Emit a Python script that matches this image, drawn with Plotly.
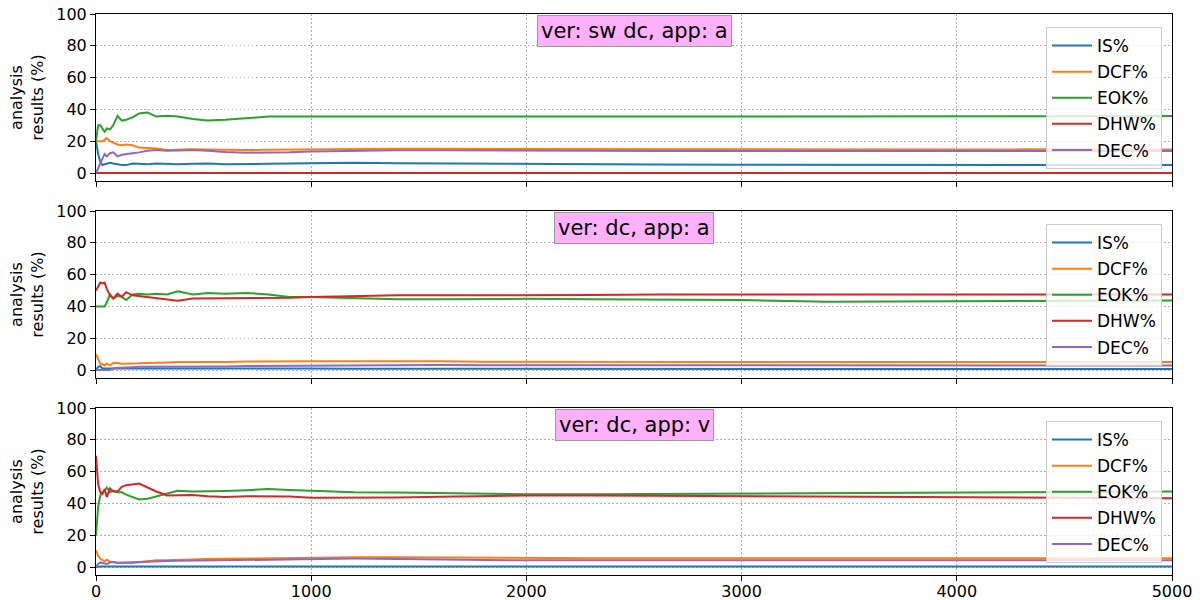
import plotly.graph_objects as go
from plotly.subplots import make_subplots

# ---------------- data ----------------
X = [0, 10, 20, 30, 40, 50, 65, 80, 100, 120, 140, 170, 200, 240, 280, 330, 380,
     450, 520, 600, 700, 800, 900, 1000, 1200, 1400, 1600, 1800, 2000, 2300, 2600,
     3000, 3400, 3800, 4200, 4600, 5000]

series_names = ["IS%", "DCF%", "EOK%", "DHW%", "DEC%"]
panel_titles = ["ver: sw dc, app: a", "ver: dc, app: a", "ver: dc, app: v"]
x_ticks = [0, 1000, 2000, 3000, 4000, 5000]
y_ticks = [0, 20, 40, 60, 80, 100]

# panel 1: ver: sw dc, app: a
p1_is = [20, 12, 7, 5, 5.5, 6, 6.5, 6, 5.5, 5, 5, 6, 5.8, 5.5, 6, 5.7, 5.5,
         5.8, 6, 5.6, 5.5, 5.8, 6, 6.2, 6.5, 6.2, 6, 5.8, 5.5, 5.4, 5.3,
         5.2, 5.1, 5, 5, 5, 5]
p1_dcf = [20, 20, 20, 20, 21, 22, 20, 19, 18, 17.5, 18, 17.5, 16, 15.8, 15.5, 14.5, 14.8,
          15, 14.8, 14.5, 14.5, 14.6, 14.7, 15, 15.3, 15.3, 15.2, 15.2, 15.2, 15.1, 15,
          15, 14.9, 14.9, 14.8, 14.8, 14.8]
p1_eok = [20, 30, 30, 28, 26, 28, 27.5, 30, 36, 33, 33.5, 35, 37.5, 38, 35.5, 36, 35.5,
          34, 33, 33.5, 34.5, 35.5, 35.5, 35.5, 35.5, 35.5, 35.3, 35.5, 35.6, 35.5, 35.6,
          35.7, 35.6, 35.5, 35.6, 35.7, 35.8]
p1_dhw = [0] * len(X)
p1_dec = [0, 3, 6, 9, 12, 10.5, 12.5, 13, 10.5, 11.5, 12, 12.5, 13, 14, 14.5, 14, 14.2,
          14.5, 14, 13.2, 12.8, 12.7, 13, 13.5, 14, 14.3, 14.4, 14.2, 14, 14, 13.9,
          13.9, 13.8, 13.8, 13.8, 13.8, 13.8]

# panel 2: ver: dc, app: a
p2_is = [0, 2, 2.5, 1, 1, 1, 1, 1, 1, 1, 1, 1.3, 1.3, 1.2, 1.1, 1, 1,
         1, 1, 1, 1, 0.9, 0.9, 0.9, 0.8, 0.8, 0.7, 0.7, 0.7, 0.6, 0.6,
         0.6, 0.6, 0.6, 0.6, 0.6, 0.6]
p2_dcf = [10, 7, 4, 3.5, 3, 4, 3, 4.5, 4.5, 4, 4, 4, 4.2, 4.5, 4.5, 4.8, 5,
          5, 4.8, 5, 5.3, 5.5, 5.5, 5.5, 5.5, 5.6, 5.5, 5.2, 5.1, 5, 5,
          5, 5, 5, 5, 5, 5]
p2_eok = [40, 40, 40, 40, 40, 42.5, 47.5, 45, 46.5, 46, 44, 47.5, 48, 47.5, 48, 47.5, 49.5,
          47.5, 48.5, 48, 48.5, 47.5, 46, 46, 45.2, 44.5, 44.5, 44.8, 44.8, 44.5, 44.2,
          44, 43, 43.2, 43.6, 43.7, 43.8]
p2_dhw = [50, 53, 55, 54.5, 55, 51, 47, 45, 48, 46, 49, 47, 46.5, 46, 45.5, 44.5, 43.5,
          45, 45, 45, 45, 45.2, 45.4, 46, 46.5, 47, 47, 47, 47, 47.2, 47.5,
          47.5, 47.8, 47.6, 47.5, 47.5, 47.5]
p2_dec = [0, 0, 0, 0, 0, 0, 0, 1, 1.5, 1.5, 1.5, 1.8, 2, 2, 2, 2, 2,
          2, 2, 2.2, 2.5, 2.6, 2.7, 2.8, 3, 3.1, 3.1, 3, 3, 3, 2.9,
          2.9, 2.9, 2.9, 2.9, 2.9, 2.9]

# panel 3: ver: dc, app: v
p3_is = [0, 0.3, 0.4, 0.4, 0.4, 0.4, 0.4, 0.4, 0.4, 0.4, 0.4, 0.4, 0.4, 0.4, 0.4, 0.4, 0.4,
         0.4, 0.4, 0.4, 0.4, 0.4, 0.3, 0.3, 0.3, 0.3, 0.3, 0.3, 0.3, 0.3, 0.3,
         0.3, 0.3, 0.3, 0.3, 0.3, 0.3]
p3_dcf = [10.5, 7, 5.2, 4.5, 3.7, 4.6, 3.5, 3, 2.5, 2.5, 2.5, 2.5, 3, 3.8, 4.2, 4.2, 4.5,
          4.8, 5, 5.2, 5.4, 5.5, 5.7, 5.9, 6.2, 6.2, 6, 5.8, 5.6, 5.6, 5.6,
          5.6, 5.6, 5.6, 5.6, 5.6, 5.6]
p3_eok = [20, 38, 45, 47, 48, 50, 47, 48, 47, 47, 45.5, 44, 42.5, 43, 44.5, 46.5, 48,
          47.5, 47.5, 47.8, 48.3, 49, 48.5, 48, 47, 46.8, 46.5, 46, 45.8, 45.8, 46,
          46.3, 46.5, 46.8, 47, 47.3, 47.5]
p3_dhw = [70, 52, 47, 46, 49, 44, 49.5, 47.5, 47.5, 50.5, 51.5, 52, 52.5, 50, 47.5, 45, 45,
          45.3, 44.5, 44, 44.5, 44.5, 44.3, 43.5, 43.5, 43.7, 44.2, 44.7, 45, 45, 44.8,
          44.6, 44.3, 44, 43.6, 43.4, 43.3]
p3_dec = [0, 2, 2.9, 2.5, 2, 2, 2.8, 3.3, 2.7, 2.8, 3, 3.3, 3.5, 3.7, 3.7, 3.8, 3.9,
          4, 4.2, 4.3, 4.6, 4.8, 5, 5.1, 5.3, 5.1, 4.7, 4.3, 4.2, 4.2, 4.2,
          4.2, 4.2, 4.2, 4.2, 4.2, 4.2]

panels = [
    [p1_is, p1_dcf, p1_eok, p1_dhw, p1_dec],
    [p2_is, p2_dcf, p2_eok, p2_dhw, p2_dec],
    [p3_is, p3_dcf, p3_eok, p3_dhw, p3_dec],
]

colors = ["#1f77b4", "#ff7f0e", "#2ca02c", "#d62728", "#9467bd"]

# ---------------- figure ----------------
W, H = 1203, 600
x0, x1 = 96 / W, 1172 / W
panel_px = [(14, 181), (211, 378), (408, 575)]   # top, bottom in px

fig = make_subplots(rows=3, cols=1, shared_xaxes=True)

legend_ids = ["legend", "legend2", "legend3"]
for r, series in enumerate(panels):
    for i, (name, vals) in enumerate(zip(series_names, series)):
        fig.add_trace(
            go.Scatter(x=X, y=vals, mode="lines", name=name,
                       line=dict(color=colors[i], width=2),
                       legend=legend_ids[r], legendgroup=f"g{r}{i}"),
            row=r + 1, col=1)

FONT = "DejaVu Sans"
layout = dict(
    width=W, height=H,
    margin=dict(l=0, r=0, t=0, b=0, autoexpand=False),
    plot_bgcolor="white", paper_bgcolor="white",
    font=dict(family=FONT, size=16, color="black"),
    showlegend=True,
)

annotations = []
for r in range(3):
    top, bot = panel_px[r]
    dom = [1 - bot / H, 1 - top / H]
    ax_suffix = "" if r == 0 else str(r + 1)
    layout["xaxis" + ax_suffix] = dict(
        domain=[x0, x1], range=[0, 5000], tickvals=x_ticks,
        showticklabels=(r == 2), ticks="outside", ticklen=5, tickcolor="black",
        showline=True, linecolor="black", linewidth=1, mirror=True,
        showgrid=True, gridcolor="#b0b0b0", griddash="1.5px,2.5px", gridwidth=1,
        zeroline=False, tickfont=dict(size=16), automargin=False,
        ticklabelstandoff=-3,
    )
    layout["yaxis" + ax_suffix] = dict(
        domain=dom, range=[-5, 100], tickvals=y_ticks,
        ticks="outside", ticklen=5, tickcolor="black",
        showline=True, linecolor="black", linewidth=1, mirror=True,
        showgrid=True, gridcolor="#b0b0b0", griddash="1.5px,2.5px", gridwidth=1,
        zeroline=False, tickfont=dict(size=16), automargin=False,
        title=dict(text="analysis<br>results (%)", font=dict(size=16), standoff=8),
    )
    legend_cfg = dict(
        x=1162 / W, xanchor="right", y=1 - (top + 13) / H, yanchor="top",
        bgcolor="rgba(255,255,255,0.8)", bordercolor="#cccccc", borderwidth=1,
        font=dict(size=17), tracegroupgap=1, itemclick=False, itemwidth=40,
    )
    layout[legend_ids[r]] = legend_cfg
    annotations.append(dict(
        text=panel_titles[r], xref="paper", yref="paper",
        x=(x0 + x1) / 2, y=1 - (top + 17) / H, xanchor="center", yanchor="middle",
        showarrow=False, font=dict(size=21, family=FONT, color="black"),
        bgcolor="rgb(255,176,250)", bordercolor="#999999", borderwidth=1, borderpad=3,
    ))

layout["annotations"] = annotations
fig.update_layout(**layout)

fig.write_html("out.html",
               config={"displayModeBar": False},
               post_script="document.body.style.margin='0px';document.body.style.overflow='hidden';")
